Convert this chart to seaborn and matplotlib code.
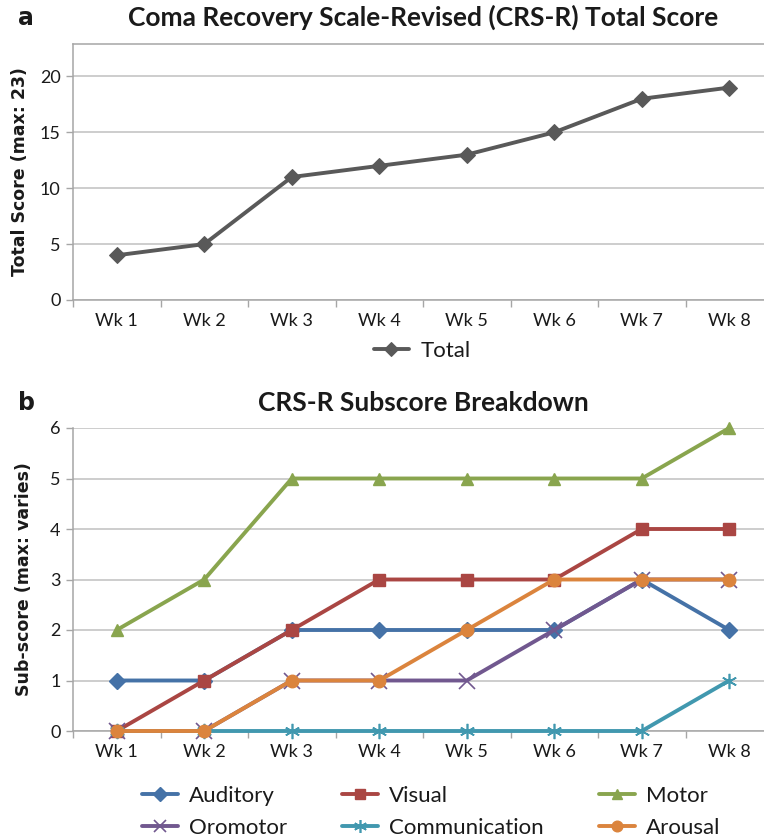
import matplotlib
matplotlib.use("Agg")
import matplotlib.pyplot as plt
import seaborn as sns
import numpy as np
from matplotlib.ticker import FixedLocator, NullFormatter

weeks = ["Wk 1", "Wk 2", "Wk 3", "Wk 4", "Wk 5", "Wk 6", "Wk 7", "Wk 8"]
total = [4, 5, 11, 12, 13, 15, 18, 19]

auditory = [1, 1, 2, 2, 2, 2, 3, 2]
visual = [0, 1, 2, 3, 3, 3, 4, 4]
motor = [2, 3, 5, 5, 5, 5, 5, 6]
oromotor = [0, 0, 1, 1, 1, 2, 3, 3]
communication = [0, 0, 0, 0, 0, 0, 0, 1]
arousal = [0, 0, 1, 1, 2, 3, 3, 3]

sns.set_theme(style="white")
plt.rcParams["font.family"] = ["Lato", "DejaVu Sans"]

W, H = 764, 838
fig = plt.figure(figsize=(W / 100, H / 100), dpi=100)

GRID = "#c0c0c0"
AXIS = "#a6a6a6"
TXT = "#1a1a1a"
x = np.arange(len(weeks))


def frac_box(left, top, right, bottom):
    return [left / W, 1 - bottom / H, (right - left) / W, (bottom - top) / H]


def style_axes(ax, ymax, ystep, top_border):
    ax.set_xlim(-0.5, len(weeks) - 0.5)
    ax.set_ylim(0, ymax)
    ax.set_yticks(np.arange(0, int(ymax) + 1, ystep))
    ax.set_xticks(x)
    ax.set_xticklabels(weeks)
    ax.xaxis.set_minor_locator(FixedLocator(np.arange(-0.5, len(weeks), 1.0)))
    ax.xaxis.set_minor_formatter(NullFormatter())
    ax.tick_params(axis="x", which="major", length=0, pad=9, labelsize=13, labelcolor=TXT)
    ax.tick_params(axis="x", which="minor", length=5, width=1, color=AXIS, direction="out", bottom=True)
    ax.tick_params(axis="y", which="major", length=5, width=1, color=AXIS, direction="out",
                   left=True, pad=4, labelsize=13, labelcolor=TXT)
    ax.yaxis.grid(True, color=GRID, lw=1.1)
    ax.xaxis.grid(False)
    ax.set_axisbelow(True)
    for side in ["left", "bottom"]:
        ax.spines[side].set_color(AXIS)
        ax.spines[side].set_linewidth(1.1)
    ax.spines["right"].set_visible(False)
    ax.spines["top"].set_visible(top_border)
    ax.spines["top"].set_color(AXIS)
    ax.spines["top"].set_linewidth(1.1)
    ax.set_xlabel("")


LEG = dict(frameon=False, fontsize=16, handlelength=1.6, handletextpad=0.5,
           borderpad=0, borderaxespad=0, labelcolor=TXT, markerscale=0.85)

# ---- panel a: total score ----
ax1 = fig.add_axes(frac_box(73, 44, 773, 300))
sns.lineplot(x=x, y=total, ax=ax1, color="#595959", lw=2.8, marker="D", markersize=8,
             markeredgecolor="#595959", label="Total", clip_on=False, zorder=3)
style_axes(ax1, 22.9, 5, True)
ax1.set_ylabel("Total Score (max: 23)", family="DejaVu Sans", fontweight="bold",
               fontsize=12.5, color=TXT, labelpad=8)
ax1.set_title("Coma Recovery Scale-Revised (CRS-R) Total Score", fontsize=19,
              fontweight="bold", color=TXT, pad=13)
ax1.legend(loc="upper center", bbox_to_anchor=(422 / W, 1 - 341 / H),
           bbox_transform=fig.transFigure, **LEG)
fig.text(18 / W, 1 - 18 / H, "a", fontsize=17, fontweight="bold", color=TXT,
         ha="left", va="center", family="DejaVu Sans")

# ---- panel b: subscores ----
series = [
    ("Auditory", auditory, "#4572a7", "D", 8, 1.0),
    ("Visual", visual, "#aa4643", "s", 9, 1.0),
    ("Motor", motor, "#89a54e", "^", 9, 1.0),
    ("Oromotor", oromotor, "#71588f", "x", 11, 1.2),
    ("Communication", communication, "#4198af", (6, 2, 0), 11, 1.2),
    ("Arousal", arousal, "#db843d", "o", 9, 1.0),
]

ax2 = fig.add_axes(frac_box(73, 428, 773, 731))
for i, (name, vals, col, mk, ms, mew) in enumerate(series):
    sns.lineplot(x=x, y=vals, ax=ax2, color=col, lw=2.8, marker=mk, markersize=ms,
                 markeredgecolor=col, markeredgewidth=mew, label=name,
                 clip_on=False, zorder=3 + i)
style_axes(ax2, 6, 1, False)
ax2.set_ylabel("Sub-score (max: varies)", family="DejaVu Sans", fontweight="bold",
               fontsize=12.5, color=TXT, labelpad=12)
ax2.set_title("CRS-R Subscore Breakdown", fontsize=19, fontweight="bold", color=TXT, pad=12)

# legend reads across rows: reorder for matplotlib's column-first filling
handles, labels = ax2.get_legend_handles_labels()
order = [0, 3, 1, 4, 2, 5]
ax2.legend([handles[k] for k in order], [labels[k] for k in order],
           loc="upper left", bbox_to_anchor=(142 / W, 1 - 786 / H),
           bbox_transform=fig.transFigure, ncol=3, columnspacing=2.5,
           labelspacing=0.55, **LEG)
fig.text(18 / W, 1 - 403 / H, "b", fontsize=17, fontweight="bold", color=TXT,
         ha="left", va="center", family="DejaVu Sans")

fig.savefig("out.png", dpi=100, facecolor="white")
